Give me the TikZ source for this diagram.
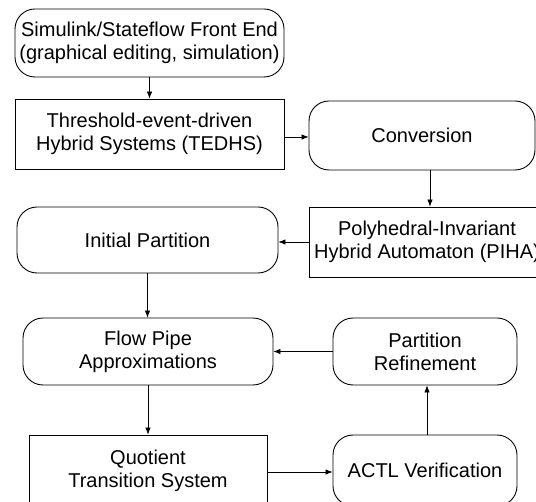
\documentclass[tikz,border=0pt]{standalone}
\usepackage{fontspec}
\setmainfont{Liberation Sans}
\usetikzlibrary{arrows.meta}

\tikzset{
  lbl/.style={align=center, inner sep=0pt, font=\fontsize{20}{23}\selectfont},
  roundbox/.style={lbl, draw, line width=0.9pt, rounded corners=20pt},
  sqbox/.style={lbl, draw, line width=0.9pt},
  arr/.style={draw, line width=0.7pt, -{Latex[length=7pt,width=5.5pt]}}
}

\begin{document}
\begin{tikzpicture}[x=1pt, y=-1pt]
  \useasboundingbox (0,0) rectangle (536,502);
  \clip (0,0) rectangle (536,502);

  % processing stages
  \node[roundbox, minimum width=269pt, minimum height=68pt] (fe) at (149.5,43)
    {Simulink/Stateflow Front End\\(graphical editing, simulation)};
  \node[sqbox, minimum width=269pt, minimum height=70pt] (tedhs) at (149.5,134)
    {Threshold-event-driven\\Hybrid Systems (TEDHS)};
  \node[roundbox, minimum width=226pt, minimum height=69pt] (conv) at (422,135.5)
    {Conversion};
  \node[sqbox, minimum width=236pt, minimum height=70pt] (piha) at (427,242)
    {Polyhedral-Invariant\\Hybrid Automaton (PIHA)};
  \node[roundbox, minimum width=261pt, minimum height=66pt] (init) at (147.5,240)
    {Initial Partition};
  \node[roundbox, minimum width=250pt, minimum height=67pt] (flow) at (148,351.5)
    {Flow Pipe\\Approximations};
  \node[roundbox, minimum width=184pt, minimum height=67pt] (pref) at (425,351.5)
    {Partition\\Refinement};
  \node[sqbox, minimum width=238pt, minimum height=71pt] (qts) at (148,470.5)
    {Quotient\\Transition System};
  \node[roundbox, minimum width=184pt, minimum height=71pt] (actl) at (425,470.5)
    {ACTL Verification};

  % data flow between the stages
  \draw[arr] (fe.south) -- (tedhs.north);
  \draw[arr] ([yshift=-3pt]tedhs.east) -- ([yshift=-3pt]tedhs.east -| conv.west);
  \draw[arr] ([xshift=8pt]conv.south) -- ([xshift=8pt]conv.south |- piha.north);
  \draw[arr] (piha.west) -- (piha.west -| init.east);
  \draw[arr] (init.south) -- (init.south |- flow.north);
  \draw[arr] (pref.west) -- (pref.west -| flow.east);
  \draw[arr] (flow.south) -- (flow.south |- qts.north);
  \draw[arr] ([yshift=-1.5pt]qts.east) -- ([yshift=-1.5pt]qts.east -| actl.west);
  \draw[arr] ([xshift=2pt]actl.north) -- ([xshift=2pt]actl.north |- pref.south);
\end{tikzpicture}
\end{document}
